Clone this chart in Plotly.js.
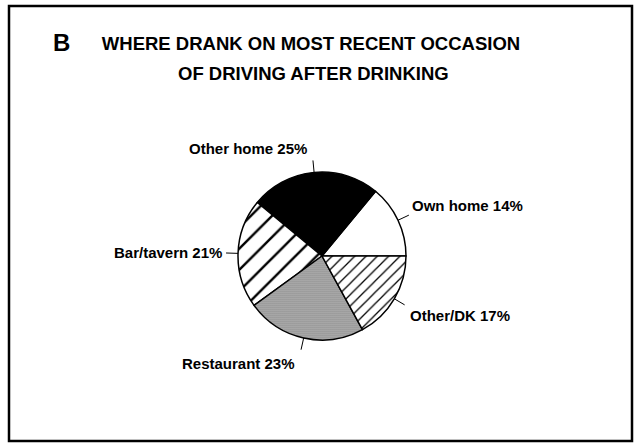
<!DOCTYPE html>
<html>
<head>
<meta charset="utf-8">
<script src="https://cdn.plot.ly/plotly-3.0.1.min.js"></script>
<style>html,body{margin:0;padding:0;background:#fff;}#chart{width:634px;height:443px;}</style>
</head>
<body>
<div id="chart"></div>
<script>
// ---- data ----
const labels = ['Own home', 'Other home', 'Bar/tavern', 'Restaurant', 'Other/DK'];
const values = [14, 25, 21, 23, 17];
const titleLines = ['WHERE DRANK ON MOST RECENT OCCASION', 'OF DRIVING AFTER DRINKING'];
const panelLetter = 'B';

// ---- styles ----
const fillColors = ['#ffffff', '#000000', '#ffffff', '#bcbcbc', '#ffffff'];
const patShapes = ['', '', '/', '.', '/'];
const patFg = ['#000000', '#000000', '#000000', '#4a4a4a', '#000000'];
const patSize = [8, 8, 15, 2, 8];
const patSolid = [0.2, 0.2, 0.16, 0.3, 0.16];
// text placement relative to leader-line end: [xanchor, dx, dy]
const labelPlace = [['left', 1, -10], ['right', -4, -12], ['right', -2, 0], ['right', -4, 14], ['left', 3, 11]];

const W = 634, H = 443, CX = 322, CY = 256, R = 84, LEAD = 12;
const FONT = 'Liberation Sans, Arial, sans-serif';

const px = x => x / W, py = y => 1 - y / H;

const total = values.reduce((a, b) => a + b, 0);
const shapes = [{type: 'rect', xref: 'paper', yref: 'paper', x0: px(9), x1: px(632), y0: py(441), y1: py(6),
  line: {color: '#000', width: 2.5}}];
const annotations = [];
let cum = 0;
values.forEach((v, i) => {
  const a = (cum + v / 2) / total * 2 * Math.PI; // CCW from east
  cum += v;
  const tx = CX + R * Math.cos(a), ty = CY - R * Math.sin(a);
  const ex = CX + (R + LEAD) * Math.cos(a), ey = CY - (R + LEAD) * Math.sin(a);
  shapes.push({type: 'line', xref: 'paper', yref: 'paper', x0: px(tx), y0: py(ty), x1: px(ex), y1: py(ey),
    line: {color: '#000', width: 1}});
  const pl = labelPlace[i];
  annotations.push({xref: 'paper', yref: 'paper', x: px(ex + pl[1]), y: py(ey + pl[2]),
    xanchor: pl[0], yanchor: 'middle', showarrow: false,
    text: '<b>' + labels[i] + ' ' + v + '%</b>', font: {family: FONT, size: 15, color: '#000'}});
});
annotations.push({xref: 'paper', yref: 'paper', x: px(61), y: py(42), xanchor: 'center', yanchor: 'middle',
  showarrow: false, text: '<b>' + panelLetter + '</b>', font: {family: FONT, size: 24, color: '#000'}});
annotations.push({xref: 'paper', yref: 'paper', x: px(313), y: py(74), xanchor: 'center', yanchor: 'middle',
  showarrow: false, text: '<b>' + titleLines[1] + '</b>', font: {family: FONT, size: 18.5, color: '#000'}});

const trace = {
  type: 'pie', labels: labels, values: values, sort: false,
  direction: 'counterclockwise',
  // first slice ends at 3 o'clock when laid out counterclockwise
  rotation: 90 - 360 * values[0] / total,
  textinfo: 'none', hoverinfo: 'none',
  domain: {x: [px(CX - R), px(CX + R)], y: [py(CY + R), py(CY - R)]},
  marker: {colors: fillColors, line: {color: '#000', width: 1.5},
    pattern: {shape: patShapes, fgcolor: patFg, bgcolor: fillColors, size: patSize, solidity: patSolid, fillmode: 'replace'}}
};

const layout = {
  width: W, height: H, margin: {l: 0, r: 0, t: 0, b: 0},
  paper_bgcolor: '#fff', plot_bgcolor: '#fff', showlegend: false,
  title: {text: '<b>' + titleLines[0] + '</b>', x: px(311), xanchor: 'center', xref: 'paper',
    y: py(44), yanchor: 'middle', yref: 'paper', font: {family: FONT, size: 18.5, color: '#000'}},
  shapes: shapes, annotations: annotations
};

Plotly.newPlot('chart', [trace], layout, {staticPlot: true, displayModeBar: false});
</script>
</body>
</html>
